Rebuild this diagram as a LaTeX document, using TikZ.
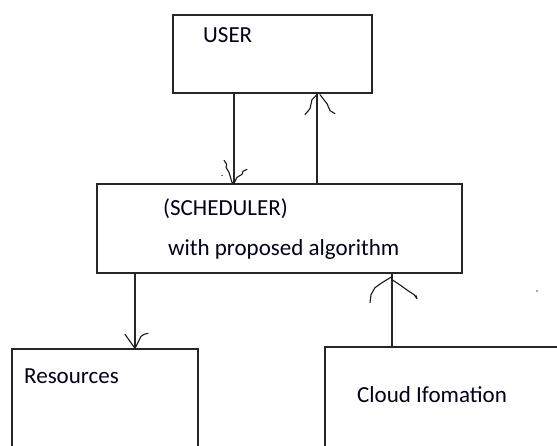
\documentclass[tikz,border=0pt]{standalone}
\usepackage{fontspec}
\setmainfont{Carlito}
\begin{document}
\begin{tikzpicture}[x=1pt,y=-1pt,
  box/.style={draw=black!85,line width=1.3pt,minimum width=#1,inner sep=0pt},
  lbl/.style={anchor=base west,inner sep=0pt,text=black!90!blue,font=\fontsize{23}{27}\selectfont},
  link/.style={draw=black!85,line width=1.1pt},
  scrib/.style={draw=black!90,line width=1.1pt,line join=round,line cap=round}]
\clip (0,0) rectangle (557,445);
\fill[white] (0,0) rectangle (557,445);

% boxes
\node[box=199pt,minimum height=78pt] (user) at (272.5,54) {};
\node[box=365pt,minimum height=89pt] (sched) at (279.5,228.5) {};
\node[box=186pt,minimum height=121pt] (res) at (105,409.5) {};
\node[box=255pt,minimum height=123pt] (cloud) at (452.5,408.5) {};

% labels
\node[lbl] (tuser) at (203,42) {USER};
\node[lbl] (tsched) at (163,215) {(SCHEDULER)};
\node[lbl] (talg) at (168,255) {with proposed algorithm};
\node[lbl] (tres) at (24,383) {Resources};
\node[lbl] (tcloud) at (357,402) {Cloud Ifomation};

% vertical positions of the connectors
\coordinate (xa) at (234,0);
\coordinate (xb) at (317,0);
\coordinate (xc) at (135,0);
\coordinate (xd) at (392,0);

\draw[link] (user.south -| xa) -- (sched.north -| xa);
\draw[link] (sched.north -| xb) -- (user.south -| xb);
\draw[link] (sched.south -| xc) -- (res.north -| xc);
\draw[link] (cloud.north -| xd) -- (sched.south -| xd);

% hand-drawn arrow heads
\begin{scope}[shift={(sched.north -| xa)}]
  \draw[scrib] (-10,-23) -- (-7.3,-19) -- (-8,-16) -- (-5,-11) -- (-2,-1) -- (0,0);
  \draw[scrib] (0,0) -- (3,-6) -- (8,-9) -- (9,-12) -- (13,-14);
  \fill[black!80] (-12,-8) circle (0.8);
\end{scope}
\begin{scope}[shift={(user.south -| xb)}]
  \draw[scrib] (0,1) -- (-5,6) -- (-7,15) -- (-12,21);
  \draw[scrib] (3,1) -- (10,10) -- (13,17) -- (18,20);
\end{scope}
\begin{scope}[shift={(res.north -| xc)}]
  \draw[scrib] (-10,-14) -- (-5,-7) -- (0,0);
  \draw[scrib] (0,0) -- (6,-12) -- (9,-14) -- (13,-15);
\end{scope}
\begin{scope}[shift={(sched.south -| xd)}]
  \draw[scrib] (0,3) -- (-10,9) -- (-17,14) -- (-21,21) -- (-22,29);
  \draw[scrib] (0,6) -- (9,12) -- (16,17) -- (22,21) -- (25,25) -- (24,22);
\end{scope}

\coordinate (speck) at (537,291);
\fill[black!70] (speck) circle (0.8);
\end{tikzpicture}
\end{document}
